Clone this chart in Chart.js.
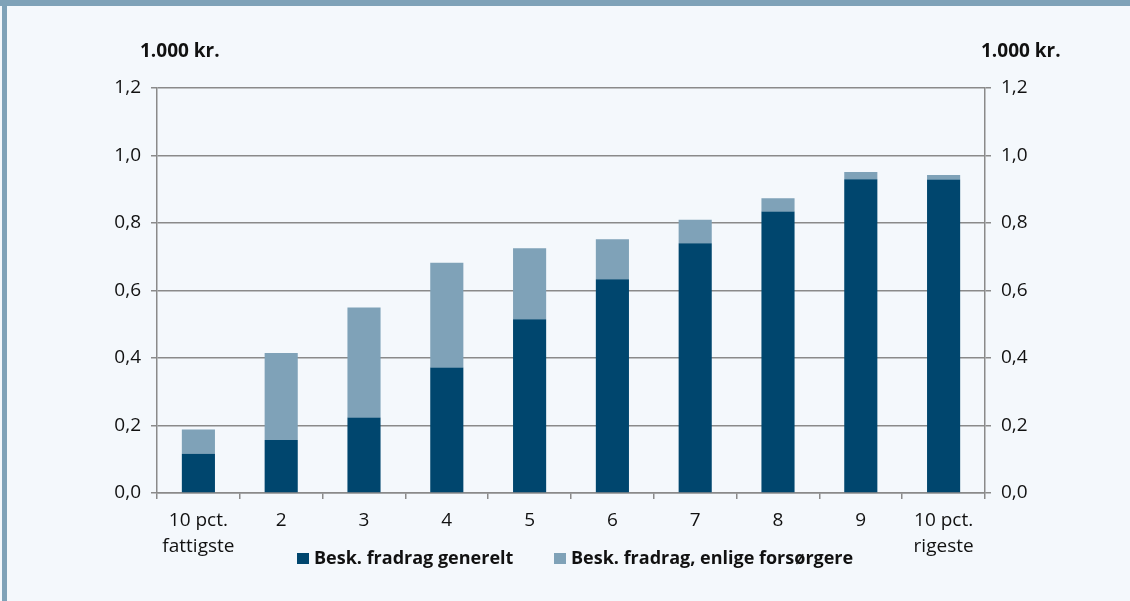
<!DOCTYPE html>
<html>
<head>
<meta charset="utf-8">
<script src="https://cdn.jsdelivr.net/npm/chart.js@4.4.1/dist/chart.umd.min.js"></script>
<style>
html,body{margin:0;padding:0;background:#f4f8fc;}
#wrap{position:relative;width:1130px;height:601px;overflow:hidden;background:#f4f8fc;}
#topband{position:absolute;left:0;top:0;width:1130px;height:6px;background:#7fa2b8;}
#leftband{position:absolute;left:2px;top:0;width:5px;height:601px;background:#7fa2b8;}
#chartbox{position:absolute;left:0;top:0;width:1130px;height:601px;}
.unit{position:absolute;font:bold 19px 'Open Sans',sans-serif;color:#111;white-space:nowrap;line-height:20px;}
.leg{position:absolute;font:bold 18px 'Open Sans',sans-serif;color:#111;white-space:nowrap;line-height:20px;}
.sw{position:absolute;width:12px;height:11px;}
</style>
</head>
<body>
<div id="wrap">
  <div id="chartbox"><canvas id="c" width="1130" height="601"></canvas></div>
  <div id="topband"></div>
  <div id="leftband"></div>
  <div class="unit" style="left:140px;top:40px;">1.000 kr.</div>
  <div class="unit" style="left:981px;top:40px;">1.000 kr.</div>
  <div class="sw" id="sw1" style="left:297px;top:553px;"></div>
  <div class="leg" id="lg1" style="left:314px;top:547px;"></div>
  <div class="sw" id="sw2" style="left:554px;top:553px;"></div>
  <div class="leg" id="lg2" style="left:571px;top:547px;"></div>
</div>
<script>
// ---- data ----
const categories = [['10 pct.', 'fattigste'], '2', '3', '4', '5', '6', '7', '8', '9', ['10 pct.', 'rigeste']];
const seriesNames = ['Besk. fradrag generelt', 'Besk. fradrag, enlige forsørgere'];
const generelt = [0.116, 0.157, 0.224, 0.372, 0.515, 0.633, 0.740, 0.834, 0.930, 0.929];
const enlige = [0.072, 0.258, 0.326, 0.310, 0.210, 0.119, 0.070, 0.039, 0.021, 0.013];
const yTicks = [0, 0.2, 0.4, 0.6, 0.8, 1.0, 1.2];

const darkColor = '#00466e';
const lightColor = '#7fa2b8';
const gridColor = '#8a8a8a';
const textColor = '#111111';

document.getElementById('sw1').style.background = darkColor;
document.getElementById('sw2').style.background = lightColor;
document.getElementById('lg1').textContent = seriesNames[0];
document.getElementById('lg2').textContent = seriesNames[1];

const fmt = v => Number(v).toFixed(1).replace('.', ',');
const tickFont = {family: "'Open Sans', sans-serif", size: 19, lineHeight: 1.34};

function yAxis(pos, onArea, width) {
  return {
    type: 'linear', position: pos, stacked: pos === 'left',
    min: yTicks[0], max: yTicks[yTicks.length - 1],
    afterBuildTicks: s => { s.ticks = yTicks.map(v => ({value: v})); },
    ticks: {callback: fmt, color: textColor, font: tickFont, padding: 10},
    grid: {color: gridColor, lineWidth: 1.5, drawOnChartArea: onArea, drawTicks: true, tickLength: 6, tickColor: gridColor},
    border: {display: true, color: gridColor, width: 1.5},
    afterFit: s => { s.width = width; }
  };
}

new Chart(document.getElementById('c'), {
  type: 'bar',
  data: {
    labels: categories,
    datasets: [
      {label: seriesNames[0], data: generelt, backgroundColor: darkColor, stack: 's', yAxisID: 'y'},
      {label: seriesNames[1], data: enlige, backgroundColor: lightColor, stack: 's', yAxisID: 'y'}
    ]
  },
  options: {
    responsive: false,
    animation: false,
    devicePixelRatio: 1,
    categoryPercentage: 1.0,
    barPercentage: 0.4,
    layout: {padding: {top: 88, left: 0, right: 0, bottom: 0}},
    plugins: {legend: {display: false}, tooltip: {enabled: false}, title: {display: false}},
    scales: {
      x: {
        stacked: true,
        ticks: {color: textColor, font: tickFont, padding: 9, maxRotation: 0, autoSkip: false},
        grid: {offset: true, drawOnChartArea: false, drawTicks: true, tickLength: 6, color: gridColor, lineWidth: 1.5},
        border: {display: true, color: gridColor, width: 1.5},
        afterFit: s => { s.height = 108; }
      },
      y: yAxis('left', true, 157),
      y2: yAxis('right', false, 145)
    }
  }
});
</script>
</body>
</html>
